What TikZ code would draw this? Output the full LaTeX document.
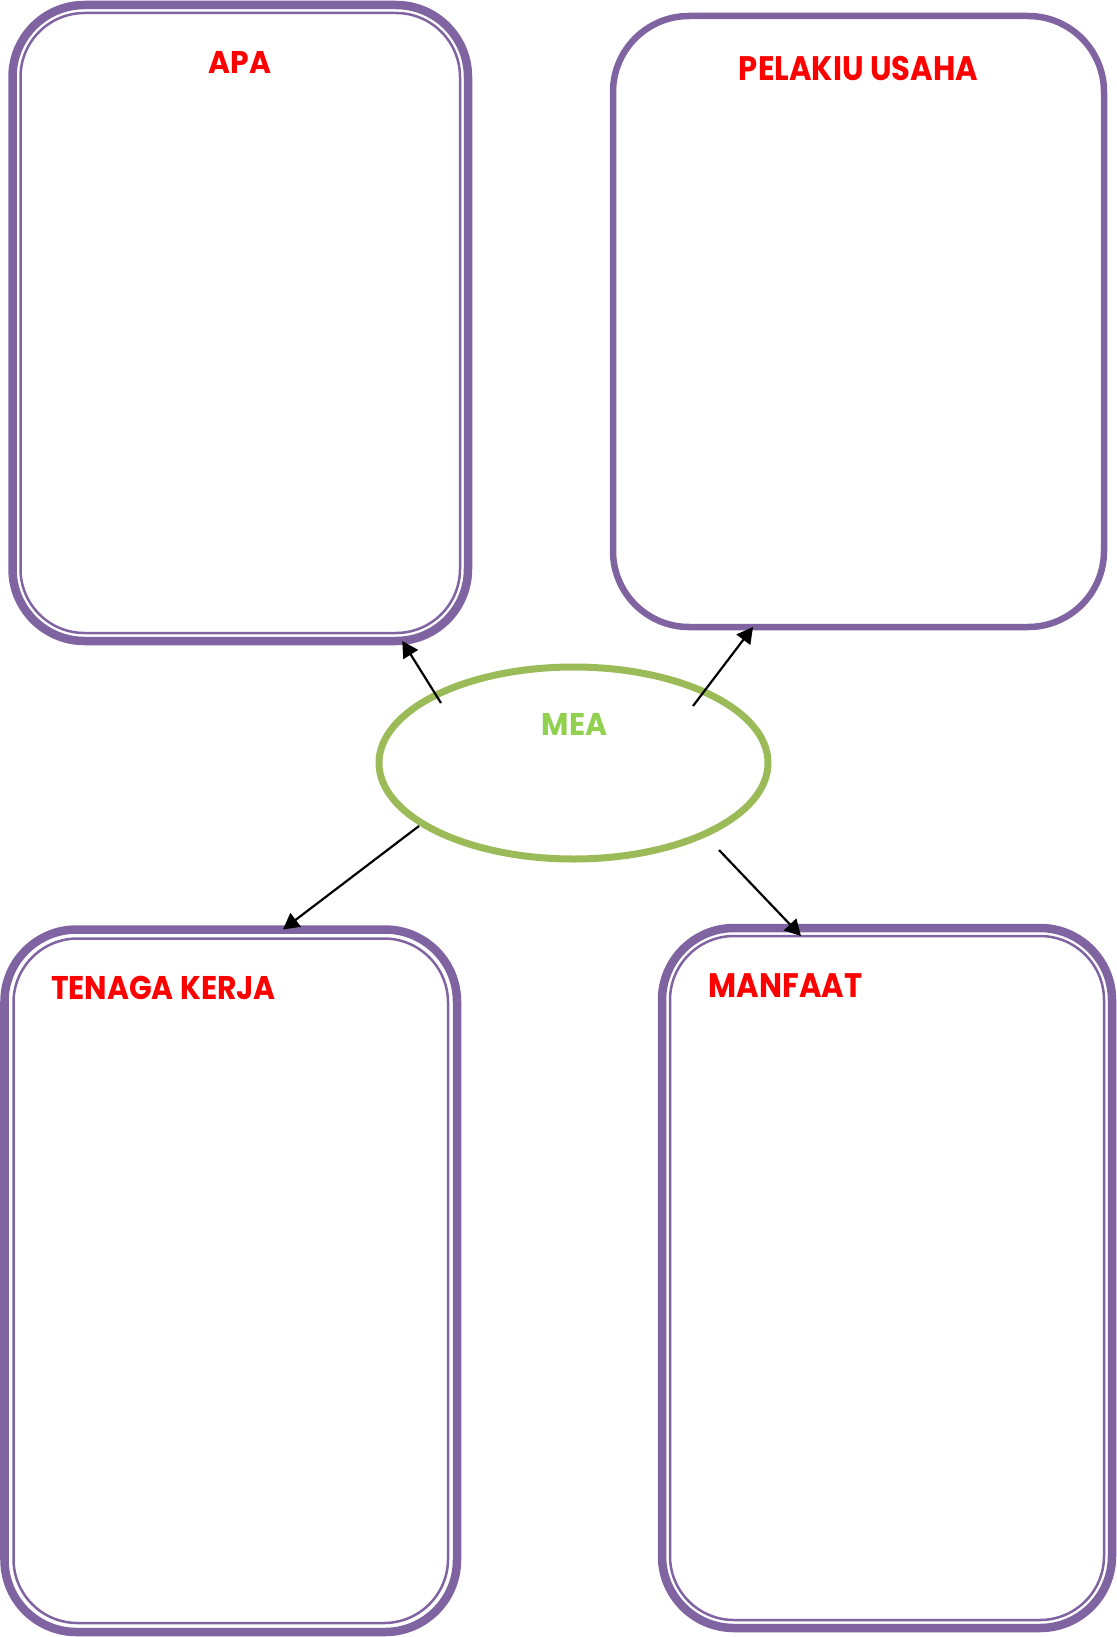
\documentclass[tikz,border=0pt]{standalone}
\usepackage{fontspec}
\newfontfamily\hdfont{Poppins}
\usetikzlibrary{arrows.meta,shapes.geometric}
\definecolor{boxpurple}{HTML}{8064A2}
\definecolor{ellgreen}{HTML}{9BBB59}
\definecolor{meagreen}{HTML}{92D050}
\definecolor{titlered}{HTML}{FF0000}
\tikzset{
  outerbox/.style={draw=boxpurple, line width=4.25pt, rounded corners=36pt, inner sep=0pt, outer sep=0pt},
  innerbox/.style={draw=boxpurple, line width=1.25pt, rounded corners=32pt, inner sep=0pt, outer sep=0pt},
  singlebox/.style={draw=boxpurple, line width=3.25pt, rounded corners=38pt, inner sep=0pt, outer sep=0pt},
  title/.style={text=titlered, font=\hdfont\bfseries, anchor=base, inner sep=0pt},
  arr/.style={-{Triangle[length=8pt,width=8.5pt]}, line width=1.1pt, black},
}
\begin{document}
\begin{tikzpicture}[x=0.5pt,y=-0.5pt]
\useasboundingbox (0,0) rectangle (1116,1637);
% Box A
\node[outerbox, minimum width=227.75pt, minimum height=318pt] (apa) at (240.25,323) {};
\node[innerbox, minimum width=219.75pt, minimum height=310pt] (apain) at (240.25,323) {};
\node[title, font=\hdfont\bfseries\fontsize{15.7}{18}\selectfont] (apat) at (240,74) {\scalebox{0.95}[1]{APA}};
% Box B
\node[singlebox, minimum width=245.5pt, minimum height=305.5pt] (pel) at (858.5,321.5) {};
\node[title, font=\hdfont\bfseries\fontsize{17}{20}\selectfont] (pelt) at (858.5,81) {\scalebox{0.9}[1]{PELAKIU USAHA}};
% Box C
\node[outerbox, minimum width=226.25pt, minimum height=351.25pt] (ten) at (230.75,1280.75) {};
\node[innerbox, minimum width=217.25pt, minimum height=342.25pt] (tenin) at (230.75,1280.75) {};
\node[title, font=\hdfont\bfseries\fontsize{16.4}{19}\selectfont] (tent) at (163.5,999) {\scalebox{0.91}[1]{TENAGA KERJA}};
% Box D
\node[outerbox, minimum width=225pt, minimum height=350pt] (man) at (887,1278) {};
\node[innerbox, minimum width=217pt, minimum height=342pt] (manin) at (887,1278) {};
\node[title, font=\hdfont\bfseries\fontsize{17}{20}\selectfont] (mant) at (785.5,997) {\scalebox{0.9}[1]{MANFAAT}};
% Ellipse
\node[ellipse, draw=ellgreen, line width=3.5pt, minimum width=194.5pt, minimum height=96pt, inner sep=0pt, outer sep=0pt] (mea) at (573.5,763) {};
\node[text=meagreen, font=\hdfont\bfseries\fontsize{15.7}{18}\selectfont, anchor=base, inner sep=0pt] (meat) at (574.5,735) {\scalebox{0.95}[1]{MEA}};
% Arrow start points
\coordinate (s1) at (441,703);
\coordinate (s2) at (693,706);
\coordinate (s3) at (419,826);
\coordinate (s4) at (719,850);
\draw[arr] (s1) -- ([xshift=81pt]apa.south);
\draw[arr] (s2) -- ([xshift=-52.75pt]pel.south);
\draw[arr] (s3) -- ([xshift=26.1pt]ten.north);
\draw[arr] (s4) -- ([xshift=-43pt]manin.north);
\end{tikzpicture}
\end{document}
